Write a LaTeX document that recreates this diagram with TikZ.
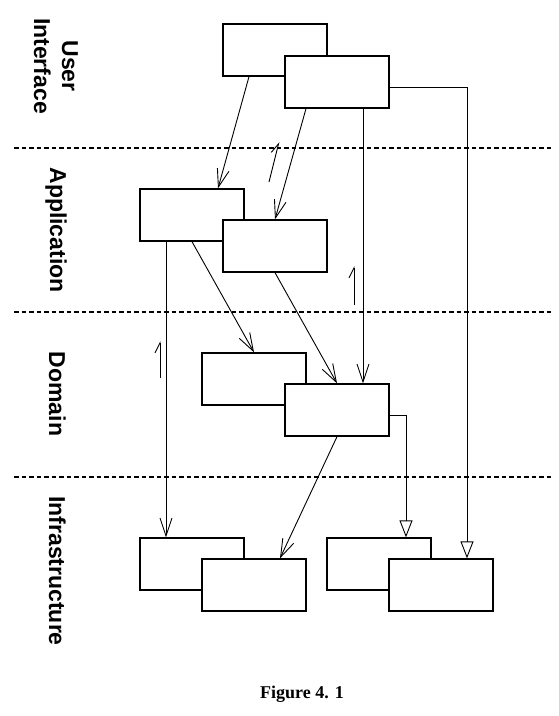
\documentclass[tikz,border=0pt]{standalone}
\usepackage{fontspec}
\setmainfont{Liberation Serif}
\setsansfont{Liberation Sans}
\usetikzlibrary{arrows.meta, positioning}

\begin{document}
\begin{tikzpicture}[
  x=1pt, y=-1pt,
  box/.style={rectangle, draw, fill=white, line width=1.3pt, minimum width=104pt,
              minimum height=52pt, inner sep=0pt},
  layer/.style={font=\sffamily\bfseries\fontsize{23}{28}\selectfont, rotate=-90,
                align=center, inner sep=0pt},
  divider/.style={line width=1.4pt, dash pattern=on 4.5pt off 3pt},
  arrow/.style={-{Straight Barb[length=18pt, width=12pt]}, line width=0.9pt},
  realize/.style={-{Triangle[open, length=17pt, width=13pt]}, line width=0.9pt},
  back/.style={-{Straight Barb[left, length=10pt, width=10pt]}, line width=0.9pt}
]
  \useasboundingbox (0,0) rectangle (558,716);

  % layer names
  \node[layer] (ui) at (56,66) {User\\Interface};
  \node[layer, anchor=base] (app) at (50,230) {Application};
  \node[layer, anchor=base] (dom) at (49,394) {Domain};
  \node[layer, anchor=base] (infra) at (49,571) {Infrastructure};

  % layer borders
  \draw[divider] (14,148) -- (552,148);
  \draw[divider] (14,312) -- (552,312);
  \draw[divider] (14,477) -- (552,477);

  % boxes, back one first
  \node[box] (ui1) at (275,50) {};
  \node[box] (ui2) at (337,82) {};
  \node[box] (app1) at (192,215) {};
  \node[box] (app2) at (275,246) {};
  \node[box] (dom1) at (254,379) {};
  \node[box] (dom2) at (337,410) {};
  \node[box] (infra1) at (192,564) {};
  \node[box] (infra2) at (254,585) {};
  \node[box] (infra3) at (379,564) {};
  \node[box] (infra4) at (441,585) {};

  \draw[arrow] ([xshift=-26pt]ui1.south) -- ([xshift=26pt]app1.north);
  \draw[arrow] ([xshift=-31pt]ui2.south) -- (app2.north);
  \draw[arrow] ([xshift=26pt]ui2.south) -- ([xshift=26pt]dom2.north);
  \draw[realize] ([yshift=-5pt]ui2.east) -| ([xshift=26pt]infra4.north);
  \draw[arrow] ([xshift=-26pt]app1.south) -- ([xshift=-26pt]infra1.north);
  \draw[arrow] (app1.south) -- (dom1.north);
  \draw[arrow] (app2.south) -- (dom2.north);
  \draw[realize] ([yshift=-5pt]dom2.east) -| ([xshift=27pt]infra3.north);
  \draw[arrow] (dom2.south) -- ([xshift=26pt]infra2.north);

  % return marks
  \draw[back] (269,182) -- (279,142);
  \draw[back] (354,305) -- (354,266);
  \draw[back] (160,378) -- (160,341);

  \node[font=\bfseries\fontsize{18}{20}\selectfont, anchor=base] (caption)
    at (302,698) {Figure 4. 1};
\end{tikzpicture}
\end{document}
